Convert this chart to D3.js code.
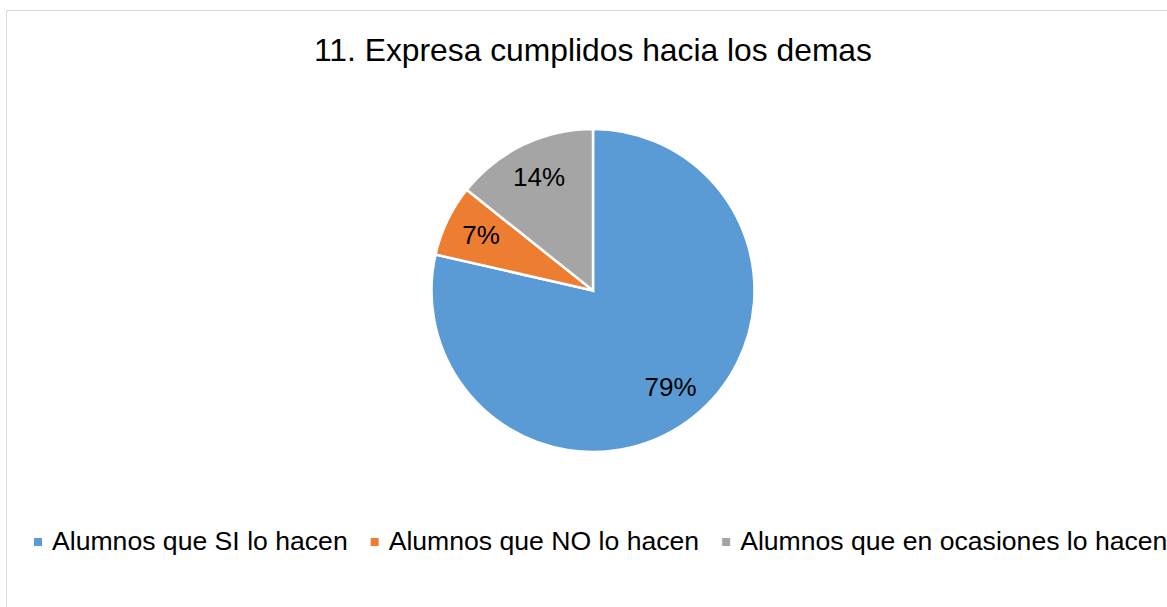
<!DOCTYPE html>
<html>
<head>
<meta charset="utf-8">
<script src="https://cdn.jsdelivr.net/npm/d3@7"></script>
<style>
  body { margin: 0; background: #fff; }
  text { font-family: "Liberation Sans", Arial, sans-serif; fill: #000; }
</style>
</head>
<body>
<div id="chart"></div>
<script>
const title = "11. Expresa cumplidos hacia los demas";
const categories = ["Alumnos que SI lo hacen", "Alumnos que NO lo hacen", "Alumnos que en ocasiones lo hacen"];
const values = [11, 1, 2];
const colors = ["#5b9bd5", "#ed7d31", "#a5a5a5"];

const width = 1167, height = 607;
const cx = 593, cy = 290.5, radius = 161.5;

const svg = d3.select("#chart").append("svg")
    .attr("width", width)
    .attr("height", height);

// chart frame (cut off on the right and bottom like the original)
svg.append("rect")
    .attr("x", 6.5).attr("y", 10.5)
    .attr("width", width + 20).attr("height", height + 20)
    .attr("fill", "#fff")
    .attr("stroke", "#d9d9d9")
    .attr("stroke-width", 1);

svg.append("text")
    .attr("x", cx)
    .attr("y", 61)
    .attr("text-anchor", "middle")
    .style("font-size", "31.8px")
    .text(title);

const total = d3.sum(values);
const pie = d3.pie().sort(null).value(d => d)(values);
const arc = d3.arc().innerRadius(0).outerRadius(radius);
const labelArc = d3.arc().innerRadius(radius * 0.77).outerRadius(radius * 0.77);

const g = svg.append("g").attr("transform", `translate(${cx},${cy})`);

g.selectAll("path.slice")
    .data(pie)
    .enter()
    .append("path")
        .attr("class", "slice")
        .attr("d", arc)
        .attr("fill", (d, i) => colors[i])
        .attr("stroke", "#fff")
        .attr("stroke-width", 2.5)
        .attr("stroke-linejoin", "miter");

g.selectAll("text.label")
    .data(pie)
    .enter()
    .append("text")
        .attr("class", "label")
        .attr("transform", d => `translate(${labelArc.centroid(d)})`)
        .attr("text-anchor", "middle")
        .attr("dy", "0.3em")
        .style("font-size", "26px")
        .text(d => Math.round(100 * d.value / total) + "%");

// legend
const legend = svg.append("g").attr("class", "legend");
let lx = 34;
categories.forEach((name, i) => {
    legend.append("rect")
        .attr("x", lx).attr("y", 538)
        .attr("width", 8).attr("height", 8)
        .attr("fill", colors[i]);
    let t = legend.append("text")
        .attr("x", lx + 18)
        .attr("y", 549.5)
        .style("font-size", "26.6px")
        .text(name);
    lx += 18 + t.node().getComputedTextLength() + 23;
});
</script>
</body>
</html>
